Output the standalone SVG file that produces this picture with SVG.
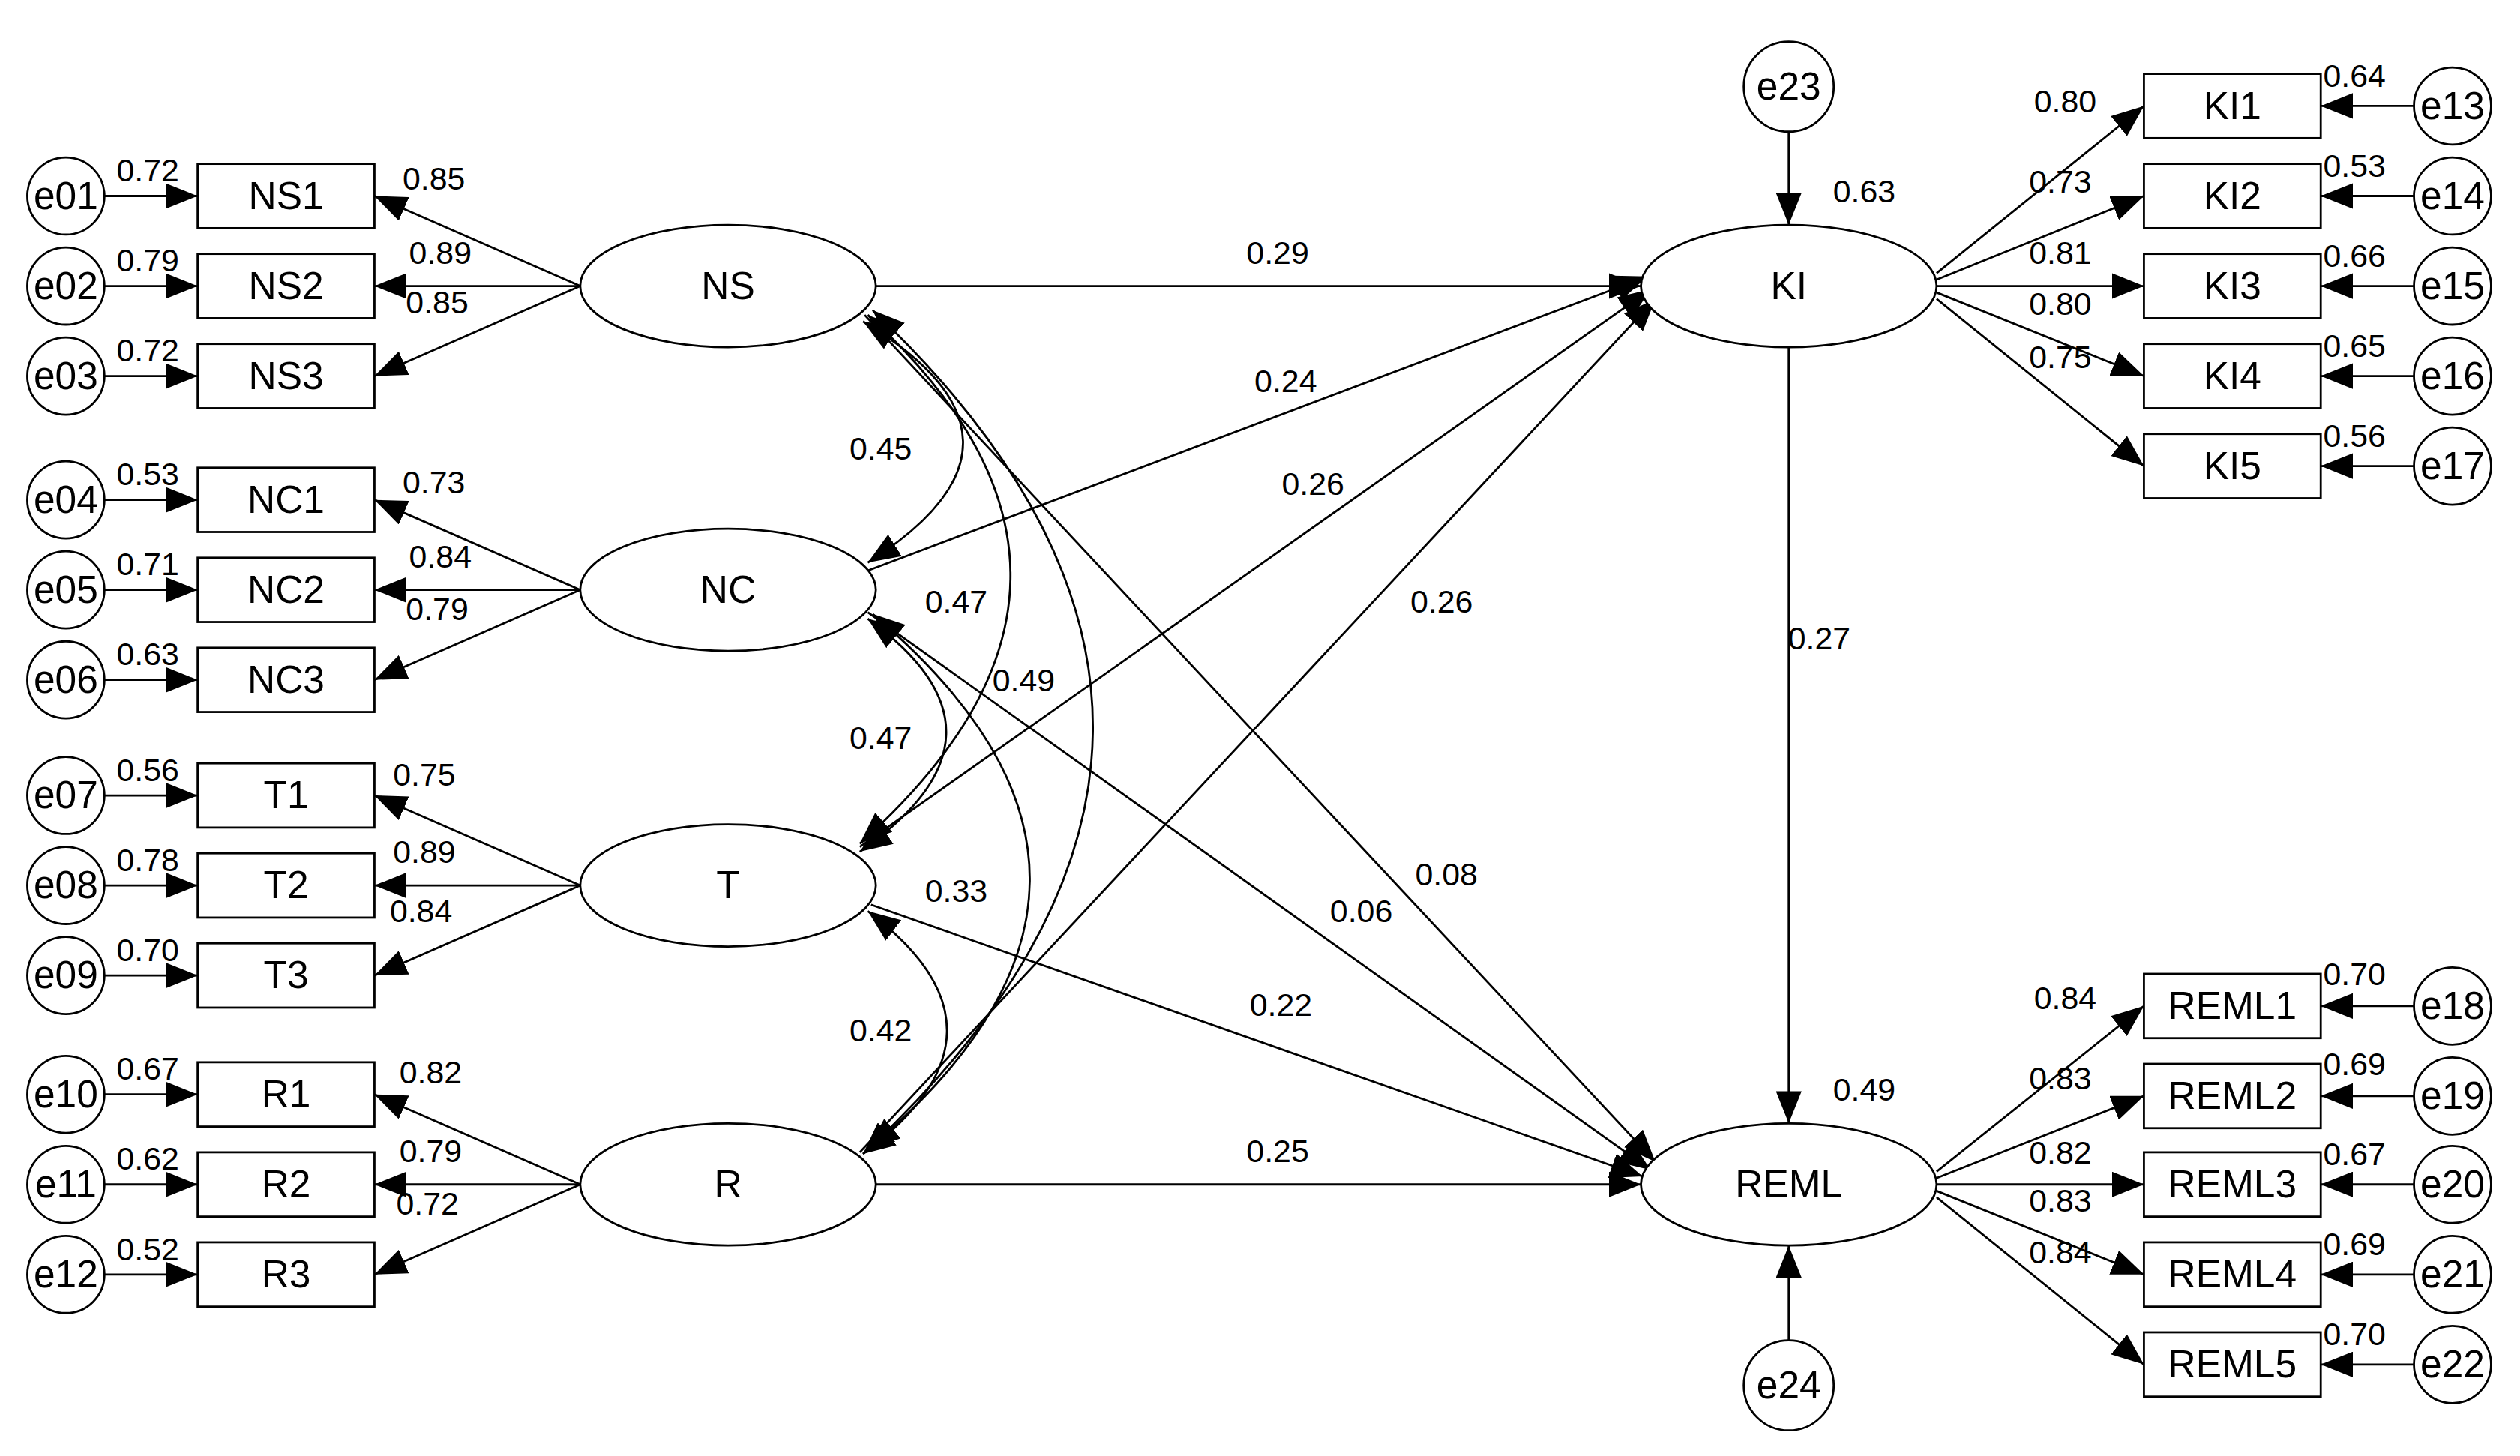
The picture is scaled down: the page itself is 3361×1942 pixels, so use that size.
<svg xmlns="http://www.w3.org/2000/svg" width="3361" height="1942" viewBox="0 0 3361 1942">
<style>
.n{fill:#fff;stroke:#000;stroke-width:1.3}
.c line,.c path{stroke:#000;stroke-width:1.3;fill:none}
.t{font-family:"Liberation Sans",Arial,sans-serif;font-size:24px;text-anchor:middle;fill:#000}
.v{font-family:"Liberation Sans",Arial,sans-serif;font-size:20px;text-anchor:middle;fill:#000}
</style>
<defs>
<marker id="a" markerUnits="userSpaceOnUse" markerWidth="22" markerHeight="16" refX="20" refY="8" orient="auto-start-reverse"><path d="M0,0 L20,8 L0,16 Z" fill="#000"/></marker>
</defs>
<rect width="3361" height="1942" fill="#fff"/>
<g transform="scale(2.1435)">
<g class="c" id="connectors">
<line x1="65" y1="122" x2="123" y2="122" marker-end="url(#a)"/>
<line x1="65" y1="178" x2="123" y2="178" marker-end="url(#a)"/>
<line x1="65" y1="234" x2="123" y2="234" marker-end="url(#a)"/>
<line x1="65" y1="311" x2="123" y2="311" marker-end="url(#a)"/>
<line x1="65" y1="367" x2="123" y2="367" marker-end="url(#a)"/>
<line x1="65" y1="423" x2="123" y2="423" marker-end="url(#a)"/>
<line x1="65" y1="495" x2="123" y2="495" marker-end="url(#a)"/>
<line x1="65" y1="551" x2="123" y2="551" marker-end="url(#a)"/>
<line x1="65" y1="607" x2="123" y2="607" marker-end="url(#a)"/>
<line x1="65" y1="681" x2="123" y2="681" marker-end="url(#a)"/>
<line x1="65" y1="737" x2="123" y2="737" marker-end="url(#a)"/>
<line x1="65" y1="793" x2="123" y2="793" marker-end="url(#a)"/>
<line x1="361" y1="178" x2="233" y2="122" marker-end="url(#a)"/>
<line x1="361" y1="178" x2="233" y2="178" marker-end="url(#a)"/>
<line x1="361" y1="178" x2="233" y2="234" marker-end="url(#a)"/>
<line x1="361" y1="367" x2="233" y2="311" marker-end="url(#a)"/>
<line x1="361" y1="367" x2="233" y2="367" marker-end="url(#a)"/>
<line x1="361" y1="367" x2="233" y2="423" marker-end="url(#a)"/>
<line x1="361" y1="551" x2="233" y2="495" marker-end="url(#a)"/>
<line x1="361" y1="551" x2="233" y2="551" marker-end="url(#a)"/>
<line x1="361" y1="551" x2="233" y2="607" marker-end="url(#a)"/>
<line x1="361" y1="737" x2="233" y2="681" marker-end="url(#a)"/>
<line x1="361" y1="737" x2="233" y2="737" marker-end="url(#a)"/>
<line x1="361" y1="737" x2="233" y2="793" marker-end="url(#a)"/>
<line x1="545" y1="178" x2="1021" y2="178" marker-end="url(#a)"/>
<line x1="540" y1="355" x2="1025" y2="172" marker-end="url(#a)"/>
<line x1="535" y1="527" x2="1027" y2="180" marker-end="url(#a)"/>
<line x1="535" y1="717" x2="1030" y2="186" marker-end="url(#a)"/>
<line x1="538" y1="196" x2="1030" y2="723" marker-end="url(#a)"/>
<line x1="540" y1="381" x2="1027" y2="728" marker-end="url(#a)"/>
<line x1="542" y1="563" x2="1022" y2="732" marker-end="url(#a)"/>
<line x1="545" y1="737" x2="1021" y2="737" marker-end="url(#a)"/>
<line x1="1113" y1="82" x2="1113" y2="140" marker-end="url(#a)"/>
<line x1="1113" y1="216" x2="1113" y2="699" marker-end="url(#a)"/>
<line x1="1113" y1="834" x2="1113" y2="775" marker-end="url(#a)"/>
<path d="M537,200 Q660,274 540,350" marker-start="url(#a)" marker-end="url(#a)"/>
<path d="M540,196 Q720,360 535,525" marker-start="url(#a)" marker-end="url(#a)"/>
<path d="M543,193 Q820,455 537,718" marker-start="url(#a)" marker-end="url(#a)"/>
<path d="M540,385 Q640,457 535,530" marker-start="url(#a)" marker-end="url(#a)"/>
<path d="M543,382 Q740,548 540,715" marker-start="url(#a)" marker-end="url(#a)"/>
<path d="M540,567 Q640,642 537,718" marker-start="url(#a)" marker-end="url(#a)"/>
<line x1="1205" y1="170" x2="1334" y2="66" marker-end="url(#a)"/>
<line x1="1205" y1="174" x2="1334" y2="122" marker-end="url(#a)"/>
<line x1="1205" y1="178" x2="1334" y2="178" marker-end="url(#a)"/>
<line x1="1205" y1="182" x2="1334" y2="234" marker-end="url(#a)"/>
<line x1="1205" y1="186" x2="1334" y2="290" marker-end="url(#a)"/>
<line x1="1205" y1="729" x2="1334" y2="626" marker-end="url(#a)"/>
<line x1="1205" y1="733" x2="1334" y2="682" marker-end="url(#a)"/>
<line x1="1205" y1="737" x2="1334" y2="737" marker-end="url(#a)"/>
<line x1="1205" y1="741" x2="1334" y2="793" marker-end="url(#a)"/>
<line x1="1205" y1="745" x2="1334" y2="849" marker-end="url(#a)"/>
<line x1="1502" y1="66" x2="1444" y2="66" marker-end="url(#a)"/>
<line x1="1502" y1="122" x2="1444" y2="122" marker-end="url(#a)"/>
<line x1="1502" y1="178" x2="1444" y2="178" marker-end="url(#a)"/>
<line x1="1502" y1="234" x2="1444" y2="234" marker-end="url(#a)"/>
<line x1="1502" y1="290" x2="1444" y2="290" marker-end="url(#a)"/>
<line x1="1502" y1="626" x2="1444" y2="626" marker-end="url(#a)"/>
<line x1="1502" y1="682" x2="1444" y2="682" marker-end="url(#a)"/>
<line x1="1502" y1="737" x2="1444" y2="737" marker-end="url(#a)"/>
<line x1="1502" y1="793" x2="1444" y2="793" marker-end="url(#a)"/>
<line x1="1502" y1="849" x2="1444" y2="849" marker-end="url(#a)"/>
</g>
<g id="e01"><circle class="n" cx="41" cy="122" r="24"/><text class="t" x="41" y="130">e01</text></g>
<g id="e02"><circle class="n" cx="41" cy="178" r="24"/><text class="t" x="41" y="186">e02</text></g>
<g id="e03"><circle class="n" cx="41" cy="234" r="24"/><text class="t" x="41" y="242">e03</text></g>
<g id="e04"><circle class="n" cx="41" cy="311" r="24"/><text class="t" x="41" y="319">e04</text></g>
<g id="e05"><circle class="n" cx="41" cy="367" r="24"/><text class="t" x="41" y="375">e05</text></g>
<g id="e06"><circle class="n" cx="41" cy="423" r="24"/><text class="t" x="41" y="431">e06</text></g>
<g id="e07"><circle class="n" cx="41" cy="495" r="24"/><text class="t" x="41" y="503">e07</text></g>
<g id="e08"><circle class="n" cx="41" cy="551" r="24"/><text class="t" x="41" y="559">e08</text></g>
<g id="e09"><circle class="n" cx="41" cy="607" r="24"/><text class="t" x="41" y="615">e09</text></g>
<g id="e10"><circle class="n" cx="41" cy="681" r="24"/><text class="t" x="41" y="689">e10</text></g>
<g id="e11"><circle class="n" cx="41" cy="737" r="24"/><text class="t" x="41" y="745">e11</text></g>
<g id="e12"><circle class="n" cx="41" cy="793" r="24"/><text class="t" x="41" y="801">e12</text></g>
<g id="NS1"><rect class="n" x="123" y="102" width="110" height="40"/><text class="t" x="178" y="130">NS1</text></g>
<g id="NS2"><rect class="n" x="123" y="158" width="110" height="40"/><text class="t" x="178" y="186">NS2</text></g>
<g id="NS3"><rect class="n" x="123" y="214" width="110" height="40"/><text class="t" x="178" y="242">NS3</text></g>
<g id="NC1"><rect class="n" x="123" y="291" width="110" height="40"/><text class="t" x="178" y="319">NC1</text></g>
<g id="NC2"><rect class="n" x="123" y="347" width="110" height="40"/><text class="t" x="178" y="375">NC2</text></g>
<g id="NC3"><rect class="n" x="123" y="403" width="110" height="40"/><text class="t" x="178" y="431">NC3</text></g>
<g id="T1"><rect class="n" x="123" y="475" width="110" height="40"/><text class="t" x="178" y="503">T1</text></g>
<g id="T2"><rect class="n" x="123" y="531" width="110" height="40"/><text class="t" x="178" y="559">T2</text></g>
<g id="T3"><rect class="n" x="123" y="587" width="110" height="40"/><text class="t" x="178" y="615">T3</text></g>
<g id="R1"><rect class="n" x="123" y="661" width="110" height="40"/><text class="t" x="178" y="689">R1</text></g>
<g id="R2"><rect class="n" x="123" y="717" width="110" height="40"/><text class="t" x="178" y="745">R2</text></g>
<g id="R3"><rect class="n" x="123" y="773" width="110" height="40"/><text class="t" x="178" y="801">R3</text></g>
<g id="NS"><ellipse class="n" cx="453" cy="178" rx="92" ry="38"/><text class="t" x="453" y="186">NS</text></g>
<g id="NC"><ellipse class="n" cx="453" cy="367" rx="92" ry="38"/><text class="t" x="453" y="375">NC</text></g>
<g id="T"><ellipse class="n" cx="453" cy="551" rx="92" ry="38"/><text class="t" x="453" y="559">T</text></g>
<g id="R"><ellipse class="n" cx="453" cy="737" rx="92" ry="38"/><text class="t" x="453" y="745">R</text></g>
<g id="KI"><ellipse class="n" cx="1113" cy="178" rx="92" ry="38"/><text class="t" x="1113" y="186">KI</text></g>
<g id="REML"><ellipse class="n" cx="1113" cy="737" rx="92" ry="38"/><text class="t" x="1113" y="745">REML</text></g>
<g id="e23"><circle class="n" cx="1113" cy="54" r="28"/><text class="t" x="1113" y="62">e23</text></g>
<g id="e24"><circle class="n" cx="1113" cy="862" r="28"/><text class="t" x="1113" y="870">e24</text></g>
<g id="KI1"><rect class="n" x="1334" y="46" width="110" height="40"/><text class="t" x="1389" y="74">KI1</text></g>
<g id="KI2"><rect class="n" x="1334" y="102" width="110" height="40"/><text class="t" x="1389" y="130">KI2</text></g>
<g id="KI3"><rect class="n" x="1334" y="158" width="110" height="40"/><text class="t" x="1389" y="186">KI3</text></g>
<g id="KI4"><rect class="n" x="1334" y="214" width="110" height="40"/><text class="t" x="1389" y="242">KI4</text></g>
<g id="KI5"><rect class="n" x="1334" y="270" width="110" height="40"/><text class="t" x="1389" y="298">KI5</text></g>
<g id="REML1"><rect class="n" x="1334" y="606" width="110" height="40"/><text class="t" x="1389" y="634">REML1</text></g>
<g id="REML2"><rect class="n" x="1334" y="662" width="110" height="40"/><text class="t" x="1389" y="690">REML2</text></g>
<g id="REML3"><rect class="n" x="1334" y="717" width="110" height="40"/><text class="t" x="1389" y="745">REML3</text></g>
<g id="REML4"><rect class="n" x="1334" y="773" width="110" height="40"/><text class="t" x="1389" y="801">REML4</text></g>
<g id="REML5"><rect class="n" x="1334" y="829" width="110" height="40"/><text class="t" x="1389" y="857">REML5</text></g>
<g id="e13"><circle class="n" cx="1526" cy="66" r="24"/><text class="t" x="1526" y="74">e13</text></g>
<g id="e14"><circle class="n" cx="1526" cy="122" r="24"/><text class="t" x="1526" y="130">e14</text></g>
<g id="e15"><circle class="n" cx="1526" cy="178" r="24"/><text class="t" x="1526" y="186">e15</text></g>
<g id="e16"><circle class="n" cx="1526" cy="234" r="24"/><text class="t" x="1526" y="242">e16</text></g>
<g id="e17"><circle class="n" cx="1526" cy="290" r="24"/><text class="t" x="1526" y="298">e17</text></g>
<g id="e18"><circle class="n" cx="1526" cy="626" r="24"/><text class="t" x="1526" y="634">e18</text></g>
<g id="e19"><circle class="n" cx="1526" cy="682" r="24"/><text class="t" x="1526" y="690">e19</text></g>
<g id="e20"><circle class="n" cx="1526" cy="737" r="24"/><text class="t" x="1526" y="745">e20</text></g>
<g id="e21"><circle class="n" cx="1526" cy="793" r="24"/><text class="t" x="1526" y="801">e21</text></g>
<g id="e22"><circle class="n" cx="1526" cy="849" r="24"/><text class="t" x="1526" y="857">e22</text></g>
<g id="labels">
<text class="v" x="92" y="113">0.72</text><text class="v" x="92" y="169">0.79</text><text class="v" x="92" y="225">0.72</text>
<text class="v" x="92" y="302">0.53</text><text class="v" x="92" y="358">0.71</text><text class="v" x="92" y="414">0.63</text>
<text class="v" x="92" y="486">0.56</text><text class="v" x="92" y="542">0.78</text><text class="v" x="92" y="598">0.70</text>
<text class="v" x="92" y="672">0.67</text><text class="v" x="92" y="728">0.62</text><text class="v" x="92" y="784">0.52</text>
<text class="v" x="270" y="118">0.85</text><text class="v" x="274" y="164">0.89</text><text class="v" x="272" y="195">0.85</text>
<text class="v" x="270" y="307">0.73</text><text class="v" x="274" y="353">0.84</text><text class="v" x="272" y="386">0.79</text>
<text class="v" x="264" y="489">0.75</text><text class="v" x="264" y="537">0.89</text><text class="v" x="262" y="574">0.84</text>
<text class="v" x="268" y="674">0.82</text><text class="v" x="268" y="723">0.79</text><text class="v" x="266" y="756">0.72</text>
<text class="v" x="795" y="164">0.29</text><text class="v" x="800" y="244">0.24</text><text class="v" x="817" y="308">0.26</text><text class="v" x="897" y="381">0.26</text>
<text class="v" x="900" y="551">0.08</text><text class="v" x="847" y="574">0.06</text><text class="v" x="797" y="632">0.22</text><text class="v" x="795" y="723">0.25</text>
<text class="v" x="548" y="286">0.45</text><text class="v" x="595" y="381">0.47</text><text class="v" x="637" y="430">0.49</text>
<text class="v" x="548" y="466">0.47</text><text class="v" x="595" y="561">0.33</text><text class="v" x="548" y="648">0.42</text>
<text class="v" x="1160" y="126">0.63</text><text class="v" x="1160" y="685">0.49</text><text class="v" x="1132" y="404">0.27</text>
<text class="v" x="1285" y="70">0.80</text><text class="v" x="1282" y="120">0.73</text><text class="v" x="1282" y="164">0.81</text><text class="v" x="1282" y="196">0.80</text><text class="v" x="1282" y="229">0.75</text>
<text class="v" x="1285" y="628">0.84</text><text class="v" x="1282" y="678">0.83</text><text class="v" x="1282" y="724">0.82</text><text class="v" x="1282" y="754">0.83</text><text class="v" x="1282" y="786">0.84</text>
<text class="v" x="1465" y="54">0.64</text><text class="v" x="1465" y="110">0.53</text><text class="v" x="1465" y="166">0.66</text><text class="v" x="1465" y="222">0.65</text><text class="v" x="1465" y="278">0.56</text>
<text class="v" x="1465" y="613">0.70</text><text class="v" x="1465" y="669">0.69</text><text class="v" x="1465" y="725">0.67</text><text class="v" x="1465" y="781">0.69</text><text class="v" x="1465" y="837">0.70</text>
</g>
</g>
</svg>
